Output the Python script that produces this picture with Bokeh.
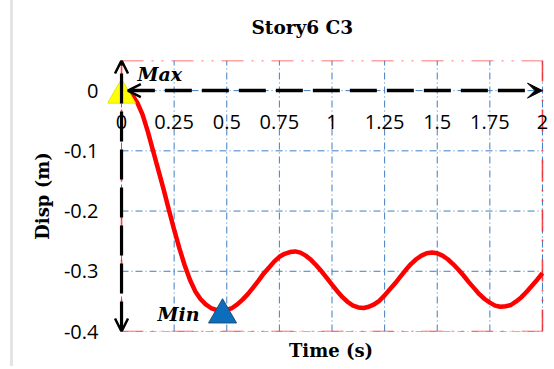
from bokeh.plotting import figure
from bokeh.models import (Range1d, FixedTicker, Arrow, OpenHead, VeeHead, Label,
                          LabelSet, ColumnDataSource, Title)
from bokeh.transform import dodge
from bokeh.core.properties import value
from bokeh.embed import file_html
from bokeh.resources import INLINE

# ---- data ----
time_s = [0.000, 0.025, 0.050, 0.075, 0.100, 0.125, 0.150, 0.175, 0.200, 0.225,
          0.250, 0.275, 0.300, 0.325, 0.350, 0.375, 0.400, 0.425, 0.450, 0.475,
          0.500, 0.525, 0.550, 0.575, 0.600, 0.625, 0.650, 0.675, 0.700, 0.725,
          0.750, 0.775, 0.800, 0.825, 0.850, 0.875, 0.900, 0.925, 0.950, 0.975,
          1.000, 1.025, 1.050, 1.075, 1.100, 1.125, 1.150, 1.175, 1.200, 1.225,
          1.250, 1.275, 1.300, 1.325, 1.350, 1.375, 1.400, 1.425, 1.450, 1.475,
          1.500, 1.525, 1.550, 1.575, 1.600, 1.625, 1.650, 1.675, 1.700, 1.725,
          1.750, 1.775, 1.800, 1.825, 1.850, 1.875, 1.900, 1.925, 1.950, 1.975,
          2.000]
disp_m = [0.000, -0.002, -0.007, -0.020, -0.040, -0.068, -0.100, -0.132, -0.164, -0.198,
          -0.231, -0.262, -0.290, -0.314, -0.333, -0.346, -0.355, -0.361, -0.364, -0.365,
          -0.364, -0.361, -0.355, -0.347, -0.338, -0.327, -0.316, -0.304, -0.294, -0.284,
          -0.276, -0.271, -0.268, -0.267, -0.269, -0.274, -0.281, -0.290, -0.300, -0.311,
          -0.322, -0.333, -0.343, -0.351, -0.357, -0.360, -0.361, -0.359, -0.355, -0.349,
          -0.340, -0.330, -0.320, -0.309, -0.298, -0.288, -0.280, -0.274, -0.270, -0.269,
          -0.270, -0.274, -0.280, -0.288, -0.297, -0.307, -0.318, -0.328, -0.338, -0.346,
          -0.352, -0.357, -0.359, -0.358, -0.356, -0.350, -0.343, -0.334, -0.324, -0.314,
          -0.303]

max_t = [0.0]
max_v = [0.0]
min_t = [0.48]
min_v = [-0.365]

x_ticks = [0, 0.25, 0.5, 0.75, 1, 1.25, 1.5, 1.75, 2]
x_tick_labels = ["0", "0.25", "0.5", "0.75", "1", "1.25", "1.5", "1.75", "2"]
y_ticks = [0, -0.1, -0.2, -0.3, -0.4]
y_tick_labels = ["0", "-0.1", "-0.2", "-0.3", "-0.4"]

X_MIN, X_MAX = 0, 2
Y_MIN, Y_MAX = -0.4, 0.05
X_PAD_L = 14 / 210     # room left of the y axis so the Max marker is not clipped
X_PAD_R = 12 / 210     # room right of x = 2 for its tick label
ARROW_INSET = 0.03
MARKER_DROP = -0.0074  # draw triangles centred on their box (Excel style)

TICK_FONT = "Open Sans"
SERIF = "DejaVu Serif"
GRID_BLUE = "#3f7fc4"
BORDER_RED = "#ff2a2a"

p = figure(width=541, height=366, x_range=Range1d(X_MIN - X_PAD_L, X_MAX + X_PAD_R),
           y_range=Range1d(Y_MIN, Y_MAX), output_backend="svg",
           toolbar_location=None, min_border_left=94, min_border_right=0,
           min_border_top=58, min_border_bottom=35,
           styles={"margin-left": "10px", "border-left": "3px solid #e4e4e4"})
p.xgrid.visible = False
p.ygrid.visible = False
p.outline_line_color = None

# title
p.title.text = "Story6 C3"
p.title.align = "left"
p.title.offset = 144
p.title.standoff = 29
p.title.text_font = SERIF
p.title.text_font_style = "bold"
p.title.text_font_size = "18.5px"
p.title.text_color = "black"
# blank spacer between the title and the plot area
p.add_layout(Title(text=" ", text_font_size="6px", standoff=0), "above")

# y axis
p.yaxis.ticker = FixedTicker(ticks=y_ticks)
p.yaxis.major_label_overrides = {t: l for t, l in zip(y_ticks, y_tick_labels)}
p.yaxis.axis_line_color = None
p.yaxis.major_tick_line_color = None
p.yaxis.minor_tick_line_color = None
p.yaxis.major_tick_out = 0
p.yaxis.major_label_standoff = 9
p.yaxis.major_label_text_font = TICK_FONT
p.yaxis.major_label_text_font_size = "20px"
p.yaxis.major_label_text_color = "black"
p.yaxis.axis_label = "Disp (m)"
p.yaxis.axis_label_text_font = SERIF
p.yaxis.axis_label_text_font_style = "bold"
p.yaxis.axis_label_text_font_size = "18px"
p.yaxis.axis_label_text_color = "black"
p.yaxis.axis_label_standoff = 8

# x axis (label only; tick labels drawn at y=0)
p.xaxis.ticker = FixedTicker(ticks=x_ticks)
p.xaxis.axis_line_color = None
p.xaxis.major_tick_line_color = None
p.xaxis.minor_tick_line_color = None
p.xaxis.major_tick_out = 0
p.xaxis.major_label_standoff = 0
p.xaxis.major_label_text_font_size = "0px"
p.xaxis.axis_label = "Time (s)"
p.xaxis.axis_label_text_font = SERIF
p.xaxis.axis_label_text_font_style = "bold"
p.xaxis.axis_label_text_font_size = "18px"
p.xaxis.axis_label_text_color = "black"
p.xaxis.axis_label_standoff = 8

# grid lines (dash-dot blue) over the plotting area only
p.segment(x0=x_ticks, x1=x_ticks, y0=[Y_MIN] * len(x_ticks), y1=[Y_MAX] * len(x_ticks),
          line_color=GRID_BLUE, line_width=1, line_dash="7 3 1 3")
p.segment(x0=[X_MIN] * len(y_ticks), x1=[X_MAX] * len(y_ticks), y0=y_ticks, y1=y_ticks,
          line_color=GRID_BLUE, line_width=1, line_dash="7 3 1 3")

# red dash-dot-dot plot-area border
p.segment(x0=[X_MIN, X_MIN, X_MAX, X_MIN], x1=[X_MAX, X_MAX, X_MAX, X_MIN],
          y0=[Y_MAX, Y_MIN, Y_MIN, Y_MIN], y1=[Y_MAX, Y_MIN, Y_MAX, Y_MAX],
          line_color=BORDER_RED, line_width=1.6, line_alpha=0.85,
          line_dash="22 8 2 8 2 8")

# curve
p.line(time_s, disp_m, line_color="#ff0000", line_width=4.5)

# markers
mk = ColumnDataSource(dict(t=max_t + min_t, v=max_v + min_v,
                           fill=["#ffff00", "#0a6ebd"], edge=["#e6e600", "#1f4e79"]))
p.scatter(x="t", y=dodge("v", MARKER_DROP, range=p.y_range), source=mk,
          marker="triangle", size=28, fill_color="fill", line_color="edge", line_width=1)

# axis arrows
p.add_layout(Arrow(x_start=X_MIN + ARROW_INSET, y_start=0, x_end=X_MAX, y_end=0,
                   line_color="black", line_width=3.5, line_dash="27 10",
                   start=OpenHead(size=13, line_width=2.5, line_color="black"),
                   end=VeeHead(size=15, fill_color="black", line_color="black")))
p.add_layout(Arrow(x_start=X_MIN, y_start=Y_MIN, x_end=X_MIN, y_end=Y_MAX,
                   line_color="black", line_width=3.2, line_dash="30 8",
                   start=OpenHead(size=13, line_width=2.5, line_color="black"),
                   end=OpenHead(size=13, line_width=2.5, line_color="black")))

# x tick labels along y = 0
xs = ColumnDataSource(dict(x=x_ticks, y=[0] * len(x_ticks), t=x_tick_labels))
p.add_layout(LabelSet(x="x", y="y", text="t", source=xs, y_offset=-31,
                      text_align="center", text_baseline="middle",
                      text_font=value(TICK_FONT), text_font_size=value("20px"),
                      text_color="black"))

p.add_layout(Label(x=max_t[0], y=max_v[0], x_offset=16, y_offset=17, text="Max",
                   text_font=SERIF, text_font_style="bold italic",
                   text_font_size="19px", text_baseline="middle", text_color="black"))
p.add_layout(Label(x=min_t[0], y=min_v[0], x_offset=-23, y_offset=-4, text="Min",
                   text_font=SERIF, text_font_style="bold italic",
                   text_font_size="19px", text_baseline="middle", text_align="right",
                   text_color="black"))

open("out.html", "w").write(file_html(p, INLINE))
